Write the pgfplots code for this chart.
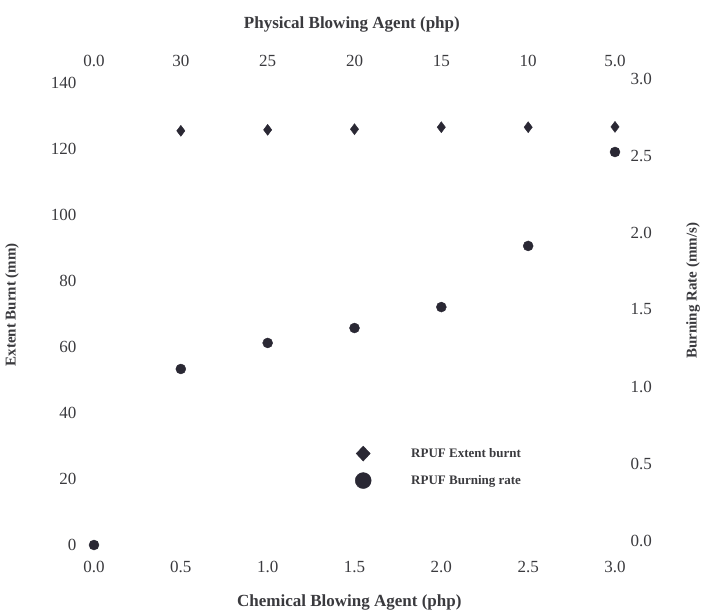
\documentclass[border=0pt]{standalone}
\usepackage{pgfplots}
\pgfplotsset{compat=1.18}
\usepackage{fontspec}
\setmainfont{Liberation Serif}
\definecolor{txt}{RGB}{58,58,62}
\definecolor{mk}{RGB}{42,40,52}
\begin{document}
\begin{tikzpicture}[x=1pt,y=1pt]
\useasboundingbox (0,0) rectangle (705,614);
\pgfplotsset{
  base/.style={
    at={(94pt,69pt)}, anchor=south west, scale only axis,
    width=521pt, height=462pt,
    xmin=0, xmax=3, clip=false,
    axis line style={draw=none}, tick style={draw=none}, major tick length=0pt,
    /pgf/number format/assume math mode=true,
    every tick label/.append style={text=txt, font=\fontsize{17}{19}\selectfont},
    xtick={0,0.5,1,1.5,2,2.5,3},
  }
}
\begin{axis}[base, ymin=0, ymax=140, ytick={0,20,40,60,80,100,120,140},
  xticklabel pos=left, yticklabel pos=left,
  xticklabel style={/pgf/number format/fixed,/pgf/number format/fixed zerofill,/pgf/number format/precision=1, yshift=-13pt},
  yticklabel style={xshift=-14pt},
]
\addplot[only marks, mark=diamond*, mark size=5.5pt, color=mk, forget plot]
  coordinates {(0.5,125.5)(1,125.8)(1.5,126.0)(2,126.6)(2.5,126.6)(3,126.7)};
\end{axis}
\begin{axis}[base, ymin=0, ymax=3, ytick={0,0.5,1,1.5,2,2.5,3},
  xticklabel pos=right, yticklabel pos=right,
  xticklabels={0.0,30,25,20,15,10,5.0},
  xticklabel style={yshift=13pt},
  yticklabel style={/pgf/number format/fixed,/pgf/number format/fixed zerofill,/pgf/number format/precision=1, xshift=12pt, yshift=4.5pt},
  legend style={draw=none, fill=none, at={(axis cs:1.48,0.66)}, anchor=north west,
    font=\bfseries\fontsize{13}{15}\selectfont, text=txt, row sep=11pt},
  legend cell align=left,
  legend image code/.code={\draw[#1] plot coordinates {(0pt,0pt)}; \path[draw=none,fill=none] (-9pt,-8pt) rectangle (46pt,8pt);},
]
\addplot[only marks, mark=*, mark size=5pt, color=mk, forget plot]
  coordinates {(0,0)(0.5,1.143)(1,1.312)(1.5,1.409)(2,1.545)(2.5,1.942)(3,2.552)};
\addlegendimage{only marks, mark=diamond*, mark size=7.5pt, mark options={xscale=1.25}, color=mk}
\addlegendentry{RPUF Extent burnt}
\addlegendimage{only marks, mark=*, mark size=8pt, color=mk}
\addlegendentry{RPUF Burning rate}
\node[font=\bfseries\fontsize{17}{20}\selectfont, text=txt, yshift=59pt] at (axis description cs:0.495,1) {Physical Blowing Agent (php)};
\node[font=\bfseries\fontsize{17}{20}\selectfont, text=txt, yshift=-57pt] at (axis description cs:0.49,0) {Chemical Blowing Agent (php)};
\node[font=\bfseries\fontsize{15}{18}\selectfont, text=txt, rotate=90, yshift=82pt] at (axis description cs:0,0.52) {Extent Burnt (mm)};
\node[font=\bfseries\fontsize{15}{18}\selectfont, text=txt, rotate=90, yshift=-78pt] at (axis description cs:1,0.55) {Burning Rate (mm/s)};
\end{axis}
\end{tikzpicture}
\end{document}
